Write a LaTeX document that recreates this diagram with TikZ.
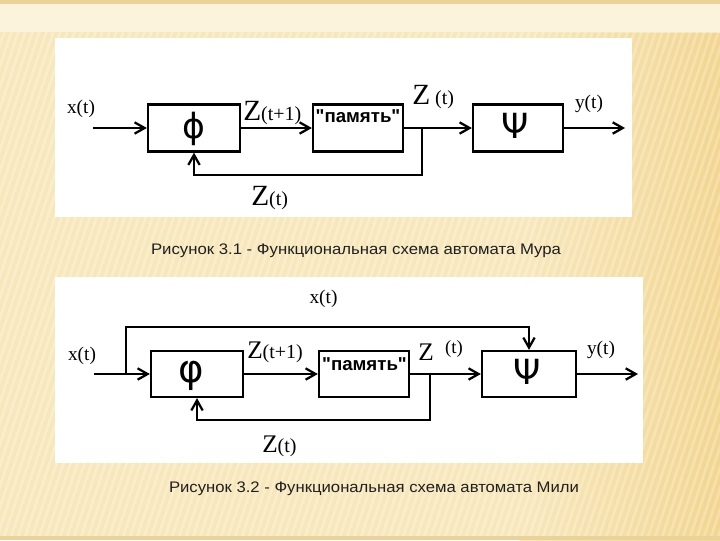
\documentclass[tikz,border=0pt]{standalone}
\usepackage{fontspec}
\usepackage{graphicx}
\setmainfont{Liberation Serif}
\newfontfamily\sansf{Liberation Sans}
\newfontfamily\greekf{DejaVu Sans}
\usetikzlibrary{arrows.meta}
\definecolor{bgbase}{HTML}{F7E8BC}
\definecolor{bgright}{HTML}{F2D690}
\definecolor{bgtop}{HTML}{FBF3DC}
\definecolor{bgline}{HTML}{E9D399}
\definecolor{captc}{HTML}{202020}
\newcommand{\zfa}{\fontsize{22}{22}\selectfont}
\newcommand{\zfb}{\fontsize{19}{19}\selectfont}
\newcommand{\pfa}{\fontsize{15}{15}\selectfont}
\newcommand{\pfb}{\fontsize{14}{14}\selectfont}
\begin{document}
\begin{tikzpicture}[x=0.75pt,y=-0.75pt,
  blk/.style={draw, line width=1.7pt, inner sep=0pt, minimum height=35.25pt},
  conn/.style={line width=1.7pt, -{Straight Barb[length=7.5pt,width=8.5pt,line width=1.7pt]}},
  lbl/.style={inner sep=0pt, font=\fontsize{14.5}{15}\selectfont},
  zl/.style={inner sep=0pt, anchor=base west},
  mem/.style={inner sep=0pt, anchor=base, font=\sansf\bfseries\fontsize{14}{14}\selectfont},
  gr/.style={inner sep=0pt},
  capt/.style={inner sep=0pt, text=captc, font=\sansf\fontsize{11}{12}\selectfont}]
\useasboundingbox (0,0) rectangle (720,540);
% background
\fill[bgbase] (0,0) rectangle (720,540);
\shade[left color=bgbase, right color=bgright] (520,33) rectangle (720,540);
\begin{scope}
\clip (0,0) rectangle (720,540);
\foreach \k in {-200,-193,...,720} \draw[white, opacity=0.25, line width=2pt] (\k,540) -- (\k+180,0);
\end{scope}
\fill[bgtop] (0,4) rectangle (720,32);
\fill[bgline] (0,0) rectangle (720,4);
\fill[bgline] (0,536) rectangle (720,540);
% panels
\fill[white] (55,38) rectangle (632,217);
\fill[white] (55,277) rectangle (643,463);

% ---------- diagram 1 ----------
\node[blk, minimum width=69pt] (phiA) at (194,128) {};
\node[blk, minimum width=67.5pt] (memA) at (358,128) {};
\node[blk, minimum width=67.5pt] (psiA) at (518,128) {};
\node[gr, font=\greekf\fontsize{26}{26}\selectfont] (phiAg) at (194,128.5) {ϕ};
\node[gr, font=\greekf\fontsize{26}{26}\selectfont] (psiAg) at (515.5,125.5) {Ψ};
\node[mem] (memAt) at (358,122) {"память"};
\coordinate (inA) at (93,128);
\coordinate (outA) at (625,128);
\coordinate (brA) at (422,128);
\coordinate (fbA) at (422,175);
\draw[conn] (inA) -- (phiA);
\draw[conn] (phiA) -- (memA);
\draw[conn] (memA) -- (psiA);
\draw[conn] (psiA) -- (outA);
\draw[conn] (brA) -- (fbA) -| (phiA.south);
\node[lbl, anchor=base] (xA) at (81,113) {x(t)};
\node[zl] (zA1) at (243,120) {\zfa Z\pfa(t+1)};
\node[zl] (zA2) at (412,104) {\zfa Z\hspace{3.75pt}\pfa(t)};
\node[lbl, anchor=base] (yA) at (589,108) {y(t)};
\node[zl] (zA3) at (251,205) {\zfa Z\pfa(t)};
\node[capt] (capA) at (356,251) {\resizebox{307.5pt}{8pt}{Рисунок 3.1 - Функциональная схема автомата Мура}};

% ---------- diagram 2 ----------
\node[blk, minimum width=69pt, minimum height=34.5pt] (phiB) at (197,374) {};
\node[blk, minimum width=67.5pt, minimum height=34.5pt] (memB) at (364,374) {};
\node[blk, minimum width=70.5pt, minimum height=34.5pt] (psiB) at (529,374) {};
\node[gr, font=\greekf\fontsize{29}{30}\selectfont] (phiBg) at (191,376) {φ};
\node[gr, font=\greekf\fontsize{26}{26}\selectfont] (psiBg) at (527,372) {Ψ};
\node[mem] (memBt) at (364.5,370) {"память"};
\coordinate (inB) at (94,374);
\coordinate (brB1) at (126,374);
\coordinate (topB) at (529,327);
\coordinate (outB) at (638,374);
\coordinate (brB2) at (430,374);
\coordinate (fbB) at (430,420);
\draw[conn] (inB) -- (phiB);
\draw[conn] (brB1) |- (topB) -- (psiB.north);
\draw[conn] (phiB) -- (memB);
\draw[conn] (memB) -- (psiB);
\draw[conn] (psiB) -- (outB);
\draw[conn] (brB2) -- (fbB) -| (phiB.south);
\node[lbl, anchor=base] (xB0) at (323.5,303) {x(t)};
\node[lbl, anchor=base] (xB) at (82,360) {x(t)};
\node[zl] (zB1) at (247,358) {\zfb Z\pfa(t+1)};
\node[zl] (zB2) at (418,360) {\zfb Z\hspace{8.6pt}\raisebox{5.25pt}{\pfb(t)}};
\node[lbl, anchor=base] (yB) at (601,354) {y(t)};
\node[zl] (zB3) at (262,452) {\zfb Z\pfa(t)};
\node[capt] (capB) at (374,489) {\resizebox{307.5pt}{8pt}{Рисунок 3.2 - Функциональная схема автомата Мили}};
\end{tikzpicture}
\end{document}
